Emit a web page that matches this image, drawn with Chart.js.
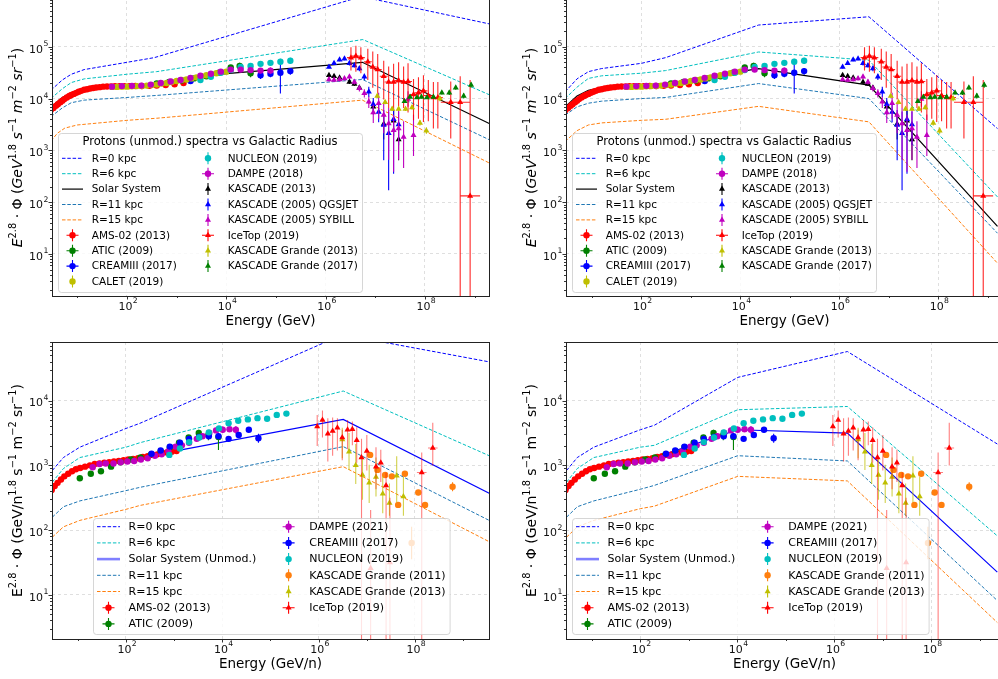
<!DOCTYPE html>
<html>
<head>
<meta charset="utf-8">
<title>Spectra vs Galactic Radius</title>
<script src="https://cdn.jsdelivr.net/npm/chart.js@4.4.1/dist/chart.umd.min.js"></script>
<style>
  html, body { margin: 0; padding: 0; background: #fff; }
  body { position: relative; width: 998px; height: 679px; overflow: hidden; }
  canvas { position: absolute; }
</style>
</head>
<body>
<canvas id="tl" width="499" height="356" style="left:0px;top:-15px;width:499px;height:356px"></canvas>
<canvas id="tr" width="499" height="356" style="left:514px;top:-15px;width:499px;height:356px"></canvas>
<canvas id="bl" width="499" height="352" style="left:0px;top:332px;width:499px;height:352px"></canvas>
<canvas id="br" width="499" height="352" style="left:514px;top:332px;width:499px;height:352px"></canvas>
<script>
// tick values
const xTickVals = [1e2, 1e4, 1e6, 1e8];
const yTickValsP = [1e1, 1e2, 1e3, 1e4, 1e5];
const yTickValsH = [1e1, 1e2, 1e3, 1e4];

// ---------------- protons (top row), GeV ----------------
const pAmsE = [2.95,3.31,3.72,4.07,4.57,5.01,5.50,6.17,6.92,7.59,8.51,9.55,10.7,12.0,13.8,15.8,18.2,20.9,24.0,28.2,33.1,39.8,47.9,57.5,70.8,89.1,112,148,200,282,398,603,912,1380];
const pAmsF = [6030,6610,7240,7760,8510,9120,9770,10500,11200,11700,12300,12900,13500,14100,14800,15100,15700,16000,16400,16600,17000,17100,17200,17300,17400,17400,17400,17500,17500,17600,17800,18200,18800,20000];

const pAticE = [398,708,1260,2240,3980,7080,12300,18600,30900];
const pAticF = [19500,20900,22400,24500,26900,31600,39800,42700,30900];
const pAticErr = [0.02,0.02,0.02,0.02,0.03,0.04,0.05,0.06,0.08];

const pCreamE = [1910,49000,77600,123000,195000];
const pCreamF = [21900,28200,30200,31600,33900];
const pCreamDn = [0.03,0.07,0.07,0.40,0.07];
const pCreamUp = [0.03,0.06,0.06,0.24,0.06];

const pCaletE = [50.1,63.1,79.4,100,126,158,200,251,316,398,501,631,794,1000,1260,1580,2000,2510,3160,3980,5010,6310,7940,10000];
const pCaletF = [16800,16800,17000,17000,17200,17400,17400,17800,18200,18600,19500,20000,20900,21900,22900,23400,24500,25700,26900,28200,29500,30900,32400,33100];

const pNucE = [3020,4900,7760,12300,19500,30900,49000,77600,123000,195000];
const pNucF = [22900,26300,31600,35500,40700,42700,46800,49000,51300,53700];
const pNucErr = [0.02,0.02,0.02,0.02,0.03,0.03,0.04,0.05,0.06,0.06];

const pDampeE = [50,79,126,195,302,479,759,1200,1900,3020,4900,7760,12300,19500,30900,49000,77600];
const pDampeF = [17000,17400,17600,17800,18600,20000,21400,22900,25100,27500,30200,33100,36300,36300,35500,34700,34700];
const pDampeErr = [0.01,0.01,0.01,0.01,0.01,0.01,0.01,0.01,0.01,0.015,0.015,0.02,0.02,0.03,0.04,0.05,0.06];

const pKas13E = [1.17e6,1.48e6,1.91e6,3.02e6,3.80e6,4.79e6,9.12e6,1.48e7,2.34e7,2.95e7];
const pKas13F = [28200,26900,25100,20900,19100,16200,6920,3240,3720,1620];
const pKas13Dn = [0.03,0.03,0.03,0.04,0.04,0.05,0.15,0.3,0.3,0.4];
const pKas13Up = [0.03,0.03,0.03,0.04,0.04,0.05,0.12,0.2,0.2,0.3];

const pQgsE = [1.17e6,1.48e6,1.91e6,2.40e6,3.02e6,3.80e6,4.79e6,6.03e6,7.41e6,9.12e6,1.17e7,1.48e7,1.86e7,2.34e7,2.95e7];
const pQgsF = [40700,47900,56200,58900,47900,43700,38000,26300,13500,7760,5500,3090,2140,3980,3160];
const pQgsDn = [0.03,0.03,0.03,0.03,0.04,0.04,0.05,0.06,0.1,0.15,0.2,0.68,1.1,1.05,0.4];
const pQgsUp = [0.03,0.03,0.03,0.03,0.04,0.04,0.05,0.06,0.1,0.12,0.15,0.29,0.42,0.18,0.25];

const pSybE = [1.17e6,1.48e6,1.91e6,2.40e6,3.02e6,3.80e6,4.79e6,6.03e6,7.41e6,9.12e6,1.17e7,1.48e7,1.86e7,2.34e7,2.95e7,3.72e7,4.57e7,5.89e7];
const pSybF = [23400,22900,23400,24500,26300,20900,15800,12600,8710,5370,8130,4790,3310,2450,2630,1820,9770,1950];
const pSybDn = [0.04,0.04,0.04,0.04,0.04,0.05,0.06,0.08,0.12,0.2,0.3,0.35,0.7,0.8,0.6,0.6,0.15,0.4];
const pSybUp = [0.04,0.04,0.04,0.04,0.04,0.05,0.06,0.08,0.1,0.15,0.2,0.25,0.3,0.3,0.35,0.3,0.15,0.4];

const pIceE = [3.24e6,4.07e6,5.13e6,7.08e6,8.91e6,1.12e7,1.48e7,1.86e7,2.34e7,2.95e7,3.72e7,4.57e7,5.89e7,7.41e7,9.33e7,1.17e8,1.48e8,1.82e8,3.31e8,5.13e8,8.13e8];
const pIceF = [61700,66100,61700,51300,40700,36300,26900,20900,20900,22400,20900,21400,12000,12900,14100,11500,10500,10500,8510,8510,132];
const pIceUp = [0.2,0.2,0.2,0.25,0.3,0.3,0.3,0.3,0.35,0.35,0.3,0.35,0.3,0.3,0.3,0.3,0.3,0.3,0.4,0.5,2.24];
const pIceDn = [0.25,0.3,0.3,0.35,0.4,0.45,0.45,0.5,0.55,0.5,0.5,0.6,0.5,0.5,0.6,0.5,0.6,0.6,0.7,9,9];
const pIceXe = [0.08,0.08,0.08,0.08,0.08,0.08,0.08,0.08,0.08,0.08,0.08,0.08,0.08,0.08,0.08,0.1,0.1,0.1,0.2,0.2,0.2];

const pKg13E = [1.10e7,1.58e7,2.19e7,2.95e7,4.07e7,5.50e7,7.94e7,1.07e8,2.00e8];
const pKg13F = [11200,8510,6310,6310,6310,6760,3390,2400,10000];
const pKg13Err = [0.04,0.04,0.04,0.04,0.04,0.04,0.05,0.06,0.05];

const pKg17E = [3.89e7,5.01e7,6.92e7,8.51e7,1.10e8,1.48e8,2.19e8,3.09e8,4.17e8,6.03e8,8.51e8];
const pKg17F = [8910,10700,10500,10700,10500,10700,12900,12900,16200,11200,18200];
const pKg17Err = [0.03,0.03,0.03,0.03,0.03,0.03,0.03,0.04,0.04,0.05,0.05];

// model curves, top-left
const tlR0E = [2.95,5.01,7.59,13.8,100,355,5.25e6,2.04e9];
const tlR0F = [14500,22900,29500,36300,50100,61700,933000,275000];
const tlR6E = [2.95,5.01,7.59,13.8,100,398,5.62e6,2.04e9];
const tlR6F = [10000,15500,20400,24000,29500,33100,138000,11700];
const tlSunE = [2.95,5.01,7.59,13.8,100,398,1410,1e4,5.5e6,2.04e9];
const tlSunF = [6920,10500,12900,14800,17400,19100,24500,30200,50100,3240];
const tlR11E = [2.95,5.01,7.59,13.8,100,398,5.5e6,2.04e9];
const tlR11F = [4470,6610,8320,9330,10500,11500,23400,1580];
const tlR15E = [2.95,3.98,5.62,10,100,398,5.5e6,2.04e9];
const tlR15F = [1510,2140,2690,3090,3800,4170,9330,562];

// model curves, top-right
const trE = [2.88,5.01,8.51,15.8,100,309,23400,3.98e6,1.58e9];
const trR0F = [13500,24000,33100,38000,47900,61700,263000,380000,2630];
const trR6F = [10000,16600,24500,27500,30900,34700,79400,55000,126];
const trSunE = [2.88,5.01,8.51,15.8,100,398,1580,23400,3.98e6,1.58e9];
const trSunF = [6920,11200,14500,16200,18200,20000,25100,38000,18200,33.9];
const trR11F = [4790,6920,8130,8910,10000,10500,19500,10000,25.1];
const trR15F = [1480,2400,3090,3390,3800,3980,7080,3550,6.61];

// ---------------- bottom row, GeV/n ----------------
const hAmsE = [2.88,3.31,3.80,4.47,5.25,6.31,7.59,9.12,11.2,14.1,17.8,22.4,28.2,35.5,44.7,56.2,70.8,89.1,112,141,178,224,282,355,447,562,708,891,1120];
const hAmsF = [417,479,537,603,676,741,813,871,912,955,1000,1050,1070,1100,1120,1150,1170,1200,1230,1260,1290,1350,1380,1450,1480,1550,1580,1620,1660];

const hAticE = [11.0,18.6,30.2,49.0,77.6,126,200,331,525,813,1260,2000,3240,5130,8320];
const hAticF = [631,741,813,955,1120,1230,1320,1480,1660,1910,2240,2690,3160,2950,2750];
const hAticDn = [0.02,0.02,0.02,0.02,0.02,0.02,0.02,0.02,0.03,0.03,0.03,0.04,0.05,0.08,0.2];
const hAticUp = [0.02,0.02,0.02,0.02,0.02,0.02,0.02,0.02,0.03,0.03,0.03,0.04,0.05,0.06,0.06];

const hDampeE = [20.4,28.2,38.0,55.0,77.6,107,148,204,282,398,550,759,1070,1450,2040,2950,3890,5370,7410,10200,14100,19100];
const hDampeF = [933,1050,1070,1070,1120,1150,1170,1230,1290,1410,1480,1660,1950,2040,2240,2570,2820,3160,3470,3550,3630,3550];
const hDampeErr = [0.02,0.02,0.02,0.02,0.02,0.02,0.02,0.02,0.02,0.02,0.02,0.02,0.02,0.02,0.03,0.03,0.03,0.04,0.04,0.05,0.05,0.06];

const hCreamE = [339,525,813,1320,2040,3310,5250,8320,13500,21900,35500,56200];
const hCreamF = [1510,1700,1950,2240,2570,2750,2820,2820,2570,2950,3550,2630];
const hCreamErr = [0.02,0.02,0.02,0.02,0.02,0.02,0.02,0.02,0.03,0.03,0.04,0.07];

const hNucE = [794,1320,2040,3310,5250,8510,13500,21400,33900,53700,85100,135000,214000];
const hNucF = [1450,1820,2290,2690,3240,3720,4470,4900,5130,5370,5250,6030,6310];
const hNucErr = [0.02,0.02,0.02,0.02,0.02,0.02,0.02,0.02,0.03,0.03,0.03,0.04,0.04];

const hKg11E = [1.17e7,1.66e7,2.40e7,3.31e7,4.47e7,6.17e7,8.51e7,1.17e8,1.62e8,6.03e8];
const hKg11F = [1450,851,708,676,245,741,63.1,380,245,468];
const hKg11Err = [0.03,0.03,0.03,0.03,0.04,0.03,0.25,0.04,0.04,0.07];

const hKg13E = [3.09e6,4.27e6,5.89e6,8.13e6,1.12e7,1.55e7,2.14e7,2.95e7,4.17e7,5.75e7];
const hKg13F = [2510,1620,1000,708,537,661,363,263,692,331];
const hKg13Up = [0.18,0.29,0.33,0.26,0.28,0.3,0.27,0.3,0.3,0.3];
const hKg13Dn = [0.29,0.28,0.29,0.38,0.31,0.3,0.3,0.2,0.41,0.3];

const hIceE = [9.33e5,1.20e6,1.55e6,1.95e6,2.45e6,3.09e6,3.98e6,5.01e6,6.17e6,7.76e6,1.00e7,1.20e7,1.55e7,1.95e7,2.51e7,3.02e7,1.38e8,2.34e8];
const hIceF = [3980,5010,3090,3390,3800,2690,3550,3630,2450,1320,1660,25.7,955,1100,490,31.6,776,1860];
const hIceUp = [0.18,0.15,0.24,0.21,0.15,0.12,0.15,0.12,0.2,0.29,0.25,0.9,0.3,0.2,0.2,1.0,0.31,0.39];
const hIceDn = [0.3,0.27,0.43,0.38,0.35,0.35,0.3,0.25,0.35,9,0.3,9,0.35,0.3,9,9,9,0.27];
const hIceXe = [0.04,0.04,0.04,0.04,0.04,0.04,0.04,0.04,0.04,0.04,0.04,0.04,0.04,0.04,0.04,0.04,0.1,0.1];

// model curves, bottom-left
const blR0E = [2.95,5.01,11.0,100,195,3.16e6,3.47e9];
const blR0F = [832,1320,1910,3720,4470,105000,39800];
const blE = [2.95,5.01,11.0,100,195,3.24e6,3.47e9];
const blR6F = [550,891,1320,1910,2240,14100,1410];
const blSunF = [398,631,891,1200,1320,5130,372];
const blR11F = [158,229,282,407,457,1950,141];
const blR15F = [77.6,112,141,209,240,955,66.1];

// model curves, bottom-right
const brE = [3.02,5.01,11.0,100,195,10200,1.86e6,2.29e9];
const brR0F = [832,1320,1910,3550,4170,22900,57500,2140];
const brR6F = [550,891,1320,1910,2040,7240,8130,81.3];
const brSunF = [398,631,891,1200,1320,3550,3160,22.4];
const brR11F = [158,229,282,427,490,1410,1170,8.13];
const brR15F = [77.6,112,141,214,234,676,575,3.72];

// ---------------- drawing ----------------
const fam = '"DejaVu Sans", sans-serif';
const C = {r: '#ff0000', g: '#008000', b: '#0000ff', c: '#00bfbf', m: '#bf00bf', y: '#bfbf00', k: '#000000',
           orange: '#ff7f0e', steel: '#1f77b4'};
const dash = [3.5, 1.8];

function pts(E, F) { return E.map((e, i) => ({x: e, y: F[i]})); }

function model(label, E, F, color, dsh, width, leg) {
  return {label, data: pts(E, F), showLine: true, borderColor: color, backgroundColor: color,
    borderWidth: width || 1, borderDash: dsh || [], pointRadius: 0, pointHoverRadius: 0, clip: 0,
    leg: leg || {line: true, color: color, width: width || 1, dash: dsh || []}};
}

function series(label, E, F, color, shape, o) {
  o = o || {};
  return {label, data: pts(E, F), showLine: false, pointStyle: shape,
    pointRadius: shape === 'triangle' ? 3.5 : 3.2, pointHoverRadius: 0,
    backgroundColor: color, borderColor: color, borderWidth: 0, clip: 0,
    err: {dn: o.dn, up: o.up, xe: o.xe, alpha: o.alpha || 1, color: color},
    leg: {marker: shape, color: color, cross: !!o.cross}};
}

function protonSeries() {
  return [
    series('AMS-02 (2013)', pAmsE, pAmsF, C.r, 'circle', {cross: true}),
    series('ATIC (2009)', pAticE, pAticF, C.g, 'circle', {cross: true, dn: pAticErr}),
    series('CREAMIII (2017)', pCreamE, pCreamF, C.b, 'circle', {cross: true, dn: pCreamDn, up: pCreamUp}),
    series('CALET (2019)', pCaletE, pCaletF, C.y, 'circle'),
    series('NUCLEON (2019)', pNucE, pNucF, C.c, 'circle', {dn: pNucErr}),
    series('DAMPE (2018)', pDampeE, pDampeF, C.m, 'circle', {cross: true, dn: pDampeErr}),
    series('KASCADE (2013)', pKas13E, pKas13F, C.k, 'triangle', {dn: pKas13Dn, up: pKas13Up}),
    series('KASCADE (2005) QGSJET', pQgsE, pQgsF, C.b, 'triangle', {dn: pQgsDn, up: pQgsUp}),
    series('KASCADE (2005) SYBILL', pSybE, pSybF, C.m, 'triangle', {dn: pSybDn, up: pSybUp}),
    series('IceTop (2019)', pIceE, pIceF, C.r, 'triangle', {cross: true, dn: pIceDn, up: pIceUp, xe: pIceXe, alpha: 0.85}),
    series('KASCADE Grande (2013)', pKg13E, pKg13F, C.y, 'triangle', {dn: pKg13Err}),
    series('KASCADE Grande (2017)', pKg17E, pKg17F, C.g, 'triangle', {dn: pKg17Err})
  ];
}

function nucleonSeries() {
  return [
    series('AMS-02 (2013)', hAmsE, hAmsF, C.r, 'circle', {cross: true}),
    series('ATIC (2009)', hAticE, hAticF, C.g, 'circle', {cross: true, dn: hAticDn, up: hAticUp}),
    series('DAMPE (2021)', hDampeE, hDampeF, C.m, 'circle', {cross: true, dn: hDampeErr}),
    series('CREAMIII (2017)', hCreamE, hCreamF, C.b, 'circle', {cross: true, dn: hCreamErr}),
    series('NUCLEON (2019)', hNucE, hNucF, C.c, 'circle', {dn: hNucErr}),
    series('KASCADE Grande (2011)', hKg11E, hKg11F, C.orange, 'circle', {dn: hKg11Err}),
    series('KASCADE Grande (2013)', hKg13E, hKg13F, C.y, 'triangle', {dn: hKg13Dn, up: hKg13Up, alpha: 0.7}),
    series('IceTop (2019)', hIceE, hIceF, C.r, 'triangle', {cross: true, dn: hIceDn, up: hIceUp, xe: hIceXe, alpha: 0.5})
  ];
}

// error bars drawn just before each dataset so layering follows plot order
const errorBars = {
  id: 'errorBars',
  beforeDatasetDraw(chart, args) {
    const ds = chart.data.datasets[args.index];
    const e = ds.err;
    if (!e || (!e.dn && !e.xe)) return;
    const {ctx, chartArea: a} = chart;
    const xs = chart.scales.x, ys = chart.scales.y;
    ctx.save();
    ctx.beginPath();
    ctx.rect(a.left, a.top, a.right - a.left, a.bottom - a.top);
    ctx.clip();
    ctx.strokeStyle = e.color;
    ctx.globalAlpha = e.alpha;
    ctx.lineWidth = 1.1;
    ctx.beginPath();
    ds.data.forEach((p, i) => {
      const px = xs.getPixelForValue(p.x), py = ys.getPixelForValue(p.y);
      if (e.dn) {
        const up = e.up ? e.up[i] : e.dn[i];
        ctx.moveTo(px, ys.getPixelForValue(p.y / Math.pow(10, e.dn[i])));
        ctx.lineTo(px, ys.getPixelForValue(p.y * Math.pow(10, up)));
      }
      if (e.xe) {
        ctx.moveTo(xs.getPixelForValue(p.x / Math.pow(10, e.xe[i])), py);
        ctx.lineTo(xs.getPixelForValue(p.x * Math.pow(10, e.xe[i])), py);
      }
    });
    ctx.stroke();
    ctx.restore();
  }
};

function drawRich(ctx, segs, cx, cy, size) {
  let w = 0;
  const parts = segs.map(([t, k]) => {
    const fs = k === 's' ? size * 0.7 : size;
    const font = (k === 'i' ? 'italic ' : '') + fs + 'px ' + fam;
    ctx.font = font;
    const tw = ctx.measureText(t).width;
    w += tw;
    return {t, font, tw, dy: k === 's' ? -size * 0.42 : 0};
  });
  let x = cx - w / 2;
  ctx.textAlign = 'left';
  ctx.textBaseline = 'alphabetic';
  parts.forEach(p => { ctx.font = p.font; ctx.fillText(p.t, x, cy + p.dy); x += p.tw; });
}

// "10" with a raised exponent, the way mathtext sets log tick labels
function powLabel(ctx, v, x, y, align) {
  const e = String(Math.round(Math.log10(v)));
  ctx.font = '11px ' + fam;
  const wb = ctx.measureText('10').width;
  ctx.font = '7.7px ' + fam;
  const we = ctx.measureText(e).width;
  const x0 = align === 'right' ? x - wb - we : x - (wb + we) / 2;
  ctx.textAlign = 'left';
  ctx.textBaseline = 'alphabetic';
  ctx.font = '11px ' + fam;
  ctx.fillText('10', x0, y);
  ctx.font = '7.7px ' + fam;
  ctx.fillText(e, x0 + wb + 0.3, y - 6.3);
}

function marker(ctx, shape, x, y, r) {
  ctx.beginPath();
  if (shape === 'triangle') {
    let rad = 0;
    ctx.moveTo(x + Math.sin(rad) * r, y - Math.cos(rad) * r);
    rad += 2 * Math.PI / 3;
    ctx.lineTo(x + Math.sin(rad) * r, y - Math.cos(rad) * r);
    rad += 2 * Math.PI / 3;
    ctx.lineTo(x + Math.sin(rad) * r, y - Math.cos(rad) * r);
    ctx.closePath();
  } else {
    ctx.arc(x, y, r, 0, Math.PI * 2);
  }
  ctx.fill();
}

function drawLegend(ctx, a, dsets, L) {
  const bx = Math.round(a.left + L.dx), by = Math.round(a.bottom - L.dy - L.h);
  ctx.save();
  ctx.beginPath();
  ctx.roundRect(bx + 0.5, by + 0.5, L.w, L.h, 3);
  ctx.globalAlpha = 0.8;
  ctx.fillStyle = '#fff';
  ctx.fill();
  ctx.strokeStyle = '#cccccc';
  ctx.lineWidth = 1;
  ctx.stroke();
  ctx.globalAlpha = 1;
  ctx.textBaseline = 'middle';
  if (L.title) {
    ctx.fillStyle = '#000';
    ctx.font = L.titleSize + 'px ' + fam;
    ctx.textAlign = 'center';
    ctx.fillText(L.title, bx + L.w / 2, by + L.titleY);
  }
  ctx.textAlign = 'left';
  dsets.forEach((d, i) => {
    const col = i < L.rows ? 0 : 1;
    const row = col ? i - L.rows : i;
    const cy = by + L.row0 + row * L.step;
    const hx = bx + (col ? L.c2 : L.c1);
    const lg = d.leg;
    if (lg.line) {
      ctx.strokeStyle = lg.color;
      ctx.lineWidth = lg.width;
      ctx.setLineDash(lg.dash);
      ctx.beginPath();
      ctx.moveTo(hx - L.hw, cy);
      ctx.lineTo(hx + L.hw, cy);
      ctx.stroke();
      ctx.setLineDash([]);
    } else {
      ctx.strokeStyle = lg.color;
      ctx.lineWidth = 1.1;
      ctx.beginPath();
      ctx.moveTo(hx, cy - 6); ctx.lineTo(hx, cy + 6);
      if (lg.cross) { ctx.moveTo(hx - 6, cy); ctx.lineTo(hx + 6, cy); }
      ctx.stroke();
      ctx.fillStyle = lg.color;
      marker(ctx, lg.marker, hx, cy, lg.marker === 'triangle' ? 3.5 : 3.2);
    }
    ctx.fillStyle = '#000';
    ctx.font = L.size + 'px ' + fam;
    ctx.fillText(d.label, bx + (col ? L.t2 : L.t1), cy + 0.5);
  });
  ctx.restore();
}

function panelPlugin(P) {
  return {
    id: 'panel',
    afterDraw(chart) {
      const {ctx, chartArea: a} = chart;
      const xs = chart.scales.x, ys = chart.scales.y;
      ctx.save();
      // tick marks: x every decade (labelled every second), y minors 2..9
      ctx.strokeStyle = '#000';
      ctx.lineWidth = 0.8;
      ctx.beginPath();
      for (let k = -1; k <= 10; k++) {
        const v = Math.pow(10, k);
        if (v >= xs.min && v <= xs.max) {
          const px = Math.round(xs.getPixelForValue(v)) + 0.5;
          ctx.moveTo(px, a.bottom);
          ctx.lineTo(px, a.bottom + (k % 2 === 0 ? 3.5 : 2));
        }
        for (let m = 1; m < 10; m++) {
          const w = m * v;
          if (w < ys.min || w > ys.max) continue;
          const py = Math.round(ys.getPixelForValue(w)) + 0.5;
          ctx.moveTo(a.left, py);
          ctx.lineTo(a.left - (m === 1 ? 3.5 : 2), py);
        }
      }
      ctx.stroke();
      // tick labels
      ctx.fillStyle = '#111';
      xTickVals.forEach(v => powLabel(ctx, v, xs.getPixelForValue(v) + 1, a.bottom + 13.5, 'center'));
      P.yTicks.forEach(v => powLabel(ctx, v, a.left - 4, ys.getPixelForValue(v) + 5.8, 'right'));
      // frame
      ctx.strokeStyle = '#222';
      ctx.lineWidth = 1;
      ctx.strokeRect(Math.round(a.left) + 0.5, Math.round(a.top) + 0.5,
                     Math.round(a.right - a.left), Math.round(a.bottom - a.top));
      // axis titles
      ctx.fillStyle = '#000';
      ctx.font = '13.5px ' + fam;
      ctx.textAlign = 'center';
      ctx.textBaseline = 'middle';
      ctx.fillText(P.xTitle, (a.left + a.right) / 2, a.bottom + 25);
      ctx.save();
      ctx.translate(a.left - 35, (a.top + a.bottom) / 2 + P.yTitleShift);
      ctx.rotate(-Math.PI / 2);
      drawRich(ctx, P.yTitle, 0, 5, 14);
      ctx.restore();
      drawLegend(ctx, a, chart.data.datasets, P.legend);
      ctx.restore();
    }
  };
}

function makeChart(id, P) {
  const ds = P.datasets.map((d, i) => Object.assign(d, {order: -i}));
  return new Chart(document.getElementById(id), {
    type: 'scatter',
    data: {datasets: ds},
    options: {
      responsive: false, animation: false, devicePixelRatio: 1,
      layout: {padding: {left: 0, right: 10, top: 10, bottom: 0}},
      plugins: {legend: {display: false}, tooltip: {enabled: false}},
      events: [],
      scales: {
        x: {
          type: 'logarithmic', min: P.xMin, max: P.xMax, bounds: 'data',
          afterFit: s => { s.height = 45; },
          afterBuildTicks: s => { s.ticks = xTickVals.map(v => ({value: v})); },
          ticks: {display: false},
          grid: {color: 'rgba(176,176,176,0.5)', lineWidth: 0.8, drawTicks: false},
          border: {display: false, dash: [3, 3]}
        },
        y: {
          type: 'logarithmic', min: P.yMin, max: P.yMax, bounds: 'data',
          afterFit: s => { s.width = 52; },
          afterBuildTicks: s => { s.ticks = P.yTicks.map(v => ({value: v})); },
          ticks: {display: false},
          grid: {color: 'rgba(176,176,176,0.5)', lineWidth: 0.8, drawTicks: false},
          border: {display: false, dash: [3, 3]}
        }
      }
    },
    plugins: [errorBars, panelPlugin(P)]
  });
}

const yTitleP = [['E','i'],['2.8','s'],[' · ','n'],['Φ','n'],[' (','n'],['GeV','i'],['1.8','s'],[' s','i'],['−1','s'],[' m','i'],['−2','s'],[' sr','i'],['−1','s'],[')','n']];
const yTitleH = [['E','n'],['2.8','s'],[' · ','n'],['Φ','n'],[' (GeV/n','n'],['1.8','s'],[' s','n'],['−1','s'],[' m','n'],['−2','s'],[' sr','n'],['−1','s'],[')','n']];

const legTop = {dx: 6, dy: 4, w: 304, h: 159, title: 'Protons (unmod.) spectra vs Galactic Radius', titleSize: 11.5,
  titleY: 9.5, rows: 9, row0: 25.3, step: 15.4, c1: 14.5, c2: 150, hw: 10.5, t1: 33.7, t2: 169.7, size: 10.5};
const legBL = {dx: 40.7, dy: 5, w: 356.6, h: 116, rows: 7, row0: 8.7, step: 16.2, c1: 15.5, c2: 195.6, hw: 11.5, t1: 35.6, t2: 216.3, size: 11};
const legBR = Object.assign({}, legBL, {dx: 6});

const sunLegH = {line: true, color: 'rgba(0,0,255,0.5)', width: 2.6, dash: []};

makeChart('tl', {
  xMin: 3.1, xMax: 1.95e9, yMin: 1.54, yMax: 1e6, yTicks: yTickValsP,
  xTitle: 'Energy (GeV)', yTitle: yTitleP, yTitleShift: 2, legend: legTop,
  datasets: [
    model('R=0 kpc', tlR0E, tlR0F, C.b, dash),
    model('R=6 kpc', tlR6E, tlR6F, C.c, dash),
    model('Solar System', tlSunE, tlSunF, C.k, [], 1.2),
    model('R=11 kpc', tlR11E, tlR11F, C.steel, dash),
    model('R=15 kpc', tlR15E, tlR15F, C.orange, dash)
  ].concat(protonSeries())
});

makeChart('tr', {
  xMin: 3.0, xMax: 2.04e9, yMin: 1.54, yMax: 1e6, yTicks: yTickValsP,
  xTitle: 'Energy (GeV)', yTitle: yTitleP, yTitleShift: 2, legend: legTop,
  datasets: [
    model('R=0 kpc', trE, trR0F, C.b, dash),
    model('R=6 kpc', trE, trR6F, C.c, dash),
    model('Solar System', trSunE, trSunF, C.k, [], 1.2),
    model('R=11 kpc', trE, trR11F, C.steel, dash),
    model('R=15 kpc', trE, trR15F, C.orange, dash)
  ].concat(protonSeries())
});

makeChart('bl', {
  xMin: 2.91, xMax: 3.44e9, yMin: 2.07, yMax: 80700, yTicks: yTickValsH,
  xTitle: 'Energy (GeV/n)', yTitle: yTitleH, yTitleShift: 0, legend: legBL,
  datasets: [
    model('R=0 kpc', blR0E, blR0F, C.b, dash),
    model('R=6 kpc', blE, blR6F, C.c, dash),
    model('Solar System (Unmod.)', blE, blSunF, C.b, [], 1.2, sunLegH),
    model('R=11 kpc', blE, blR11F, C.steel, dash),
    model('R=15 kpc', blE, blR15F, C.orange, dash)
  ].concat(nucleonSeries())
});

makeChart('br', {
  xMin: 2.94, xMax: 3.0e9, yMin: 2.07, yMax: 80700, yTicks: yTickValsH,
  xTitle: 'Energy (GeV/n)', yTitle: yTitleH, yTitleShift: 0, legend: legBR,
  datasets: [
    model('R=0 kpc', brE, brR0F, C.b, dash),
    model('R=6 kpc', brE, brR6F, C.c, dash),
    model('Solar System (Unmod.)', brE, brSunF, C.b, [], 1.2, sunLegH),
    model('R=11 kpc', brE, brR11F, C.steel, dash),
    model('R=15 kpc', brE, brR15F, C.orange, dash)
  ].concat(nucleonSeries())
});
</script>
</body>
</html>
